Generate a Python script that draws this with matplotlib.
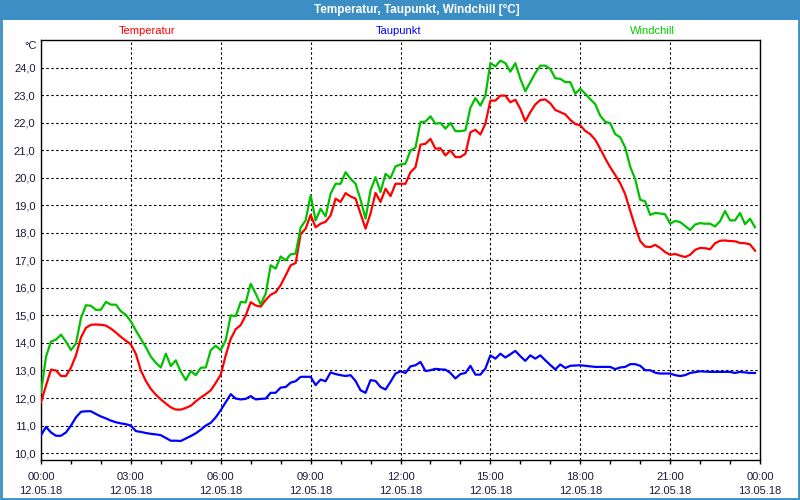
import numpy as np
import matplotlib
matplotlib.use('Agg')
import matplotlib.pyplot as plt
from matplotlib.patches import Rectangle

# Messwerte alle 10 Minuten, 12.05.18 00:00 bis 23:50
stunden = np.arange(144) * 10 / 60

temperatur = [
    11.85, 12.45, 13.03, 13.0, 12.8, 12.8, 13.1, 13.55, 14.2, 14.55, 14.66, 14.67,
    14.66, 14.63, 14.52, 14.38, 14.22, 14.08, 13.95, 13.6, 13.0, 12.62, 12.33, 12.12,
    11.95, 11.8, 11.66, 11.58, 11.58, 11.64, 11.72, 11.88, 12.02, 12.14, 12.28, 12.55,
    12.85, 13.55, 14.15, 14.5, 14.65, 15.0, 15.48, 15.36, 15.32, 15.56, 15.75, 15.84,
    16.1, 16.45, 16.82, 16.9, 17.95, 18.15, 18.65, 18.2, 18.33, 18.4, 18.63, 19.24,
    19.12, 19.44, 19.32, 19.24, 18.7, 18.15, 18.7, 19.45, 19.12, 19.6, 19.33, 19.78,
    19.78, 19.78, 20.2, 20.38, 21.2, 21.23, 21.41, 21.05, 21.07, 20.81, 20.99, 20.75,
    20.75, 20.87, 21.65, 21.74, 21.57, 21.96, 22.8, 22.8, 22.98, 22.98, 22.74, 22.83,
    22.5, 22.05, 22.38, 22.66, 22.82, 22.84, 22.7, 22.46, 22.38, 22.3, 22.1, 21.95,
    21.9, 21.7, 21.58, 21.38, 21.05, 20.7, 20.38, 20.1, 19.8, 19.4, 18.8, 18.22,
    17.7, 17.5, 17.48, 17.56, 17.45, 17.3, 17.2, 17.23, 17.17, 17.12, 17.2, 17.38,
    17.45, 17.44, 17.4, 17.62, 17.71, 17.72, 17.7, 17.69, 17.63, 17.62, 17.58, 17.35,
]

taupunkt = [
    10.65, 10.95, 10.75, 10.63, 10.63, 10.75, 11.0, 11.3, 11.5, 11.52, 11.52, 11.42,
    11.33, 11.26, 11.18, 11.12, 11.08, 11.05, 11.0, 10.8, 10.77, 10.73, 10.7, 10.68,
    10.65, 10.55, 10.45, 10.45, 10.44, 10.53, 10.62, 10.72, 10.85, 11.0, 11.1, 11.3,
    11.56, 11.85, 12.14, 11.98, 11.95, 11.97, 12.07, 11.95, 11.97, 11.98, 12.19, 12.19,
    12.38, 12.4, 12.56, 12.61, 12.77, 12.77, 12.77, 12.47, 12.67, 12.61, 12.93, 12.87,
    12.83, 12.8, 12.83, 12.62, 12.28, 12.19, 12.65, 12.62, 12.4, 12.31, 12.59, 12.89,
    12.97, 12.91, 13.15, 13.19, 13.31, 12.98, 13.01, 13.06, 13.04, 13.03, 12.91, 12.71,
    12.87, 12.91, 13.17, 12.85, 12.85, 13.07, 13.55, 13.43, 13.61, 13.47, 13.59, 13.71,
    13.52, 13.35, 13.55, 13.43, 13.55, 13.37, 13.2, 13.04, 13.22, 13.09, 13.17, 13.18,
    13.19, 13.17, 13.15, 13.13, 13.13, 13.13, 13.13, 13.05, 13.11, 13.13, 13.23, 13.23,
    13.17, 13.01, 13.01, 12.92, 12.89, 12.89, 12.89, 12.83, 12.8, 12.83, 12.91, 12.94,
    12.97, 12.96, 12.95, 12.95, 12.95, 12.95, 12.95, 12.91, 12.95, 12.93, 12.91, 12.91,
]

windchill = [
    12.2, 13.5, 14.05, 14.12, 14.3, 14.05, 13.74, 13.98, 14.9, 15.37, 15.35, 15.2,
    15.21, 15.49, 15.39, 15.39, 15.15, 15.02, 14.78, 14.45, 14.15, 13.85, 13.5, 13.28,
    13.11, 13.61, 13.16, 13.37, 12.95, 12.65, 12.98, 12.83, 13.1, 13.11, 13.74, 13.9,
    13.74, 14.1, 15.0, 14.97, 15.49, 15.47, 16.15, 15.79, 15.4, 15.79, 16.82, 16.7,
    17.14, 17.0, 17.22, 17.24, 18.19, 18.45, 19.36, 18.45, 18.87, 18.6, 19.42, 19.78,
    19.78, 20.2, 19.96, 19.78, 19.2, 18.51, 19.54, 20.02, 19.48, 20.14, 19.99, 20.41,
    20.48, 20.51, 20.99, 21.09, 22.02, 22.04, 22.23, 21.96, 21.99, 21.78, 21.99, 21.69,
    21.69, 21.72, 22.54, 22.89, 22.62, 22.98, 24.16, 24.04, 24.25, 24.16, 23.85, 24.16,
    23.59, 23.14, 23.47, 23.8, 24.07, 24.07, 23.95, 23.61, 23.59, 23.47, 23.47, 23.05,
    23.23, 23.05, 22.85, 22.67, 22.25, 22.03, 21.98, 21.58, 21.47, 21.1, 20.4, 19.95,
    19.2, 19.14, 18.65, 18.72, 18.7, 18.67, 18.33, 18.43, 18.39, 18.25, 18.1, 18.3,
    18.35, 18.33, 18.33, 18.23, 18.42, 18.79, 18.45, 18.45, 18.72, 18.31, 18.51, 18.2,
]

x_ticks = [0, 3, 6, 9, 12, 15, 18, 21, 24]
x_labels = ['00:00\n12.05.18', '03:00\n12.05.18', '06:00\n12.05.18', '09:00\n12.05.18',
            '12:00\n12.05.18', '15:00\n12.05.18', '18:00\n12.05.18', '21:00\n12.05.18',
            '00:00\n13.05.18']
y_ticks = list(range(10, 25))

plt.rcParams['font.family'] = ['Liberation Sans', 'DejaVu Sans']
rahmen = '#3c8fc5'
text_farbe = '#1c1c3c'

fig = plt.figure(figsize=(8, 5), dpi=100)
fig.patch.set_facecolor('white')

# Titelleiste und Rahmen
fig.patches.append(Rectangle((0, 1 - 20 / 500), 1, 20 / 500, transform=fig.transFigure,
                             facecolor=rahmen, edgecolor='none', zorder=0))
fig.patches.append(Rectangle((0.001, 0.002), 0.998, 0.996, transform=fig.transFigure,
                             facecolor='none', edgecolor=rahmen, linewidth=2, zorder=0))
fig.text(417 / 800, 1 - 10 / 500, 'Temperatur, Taupunkt, Windchill [°C]', color='white',
         fontsize=8.5, fontweight='bold', ha='center', va='center')

fig.text(147 / 800, 1 - 31 / 500, 'Temperatur', color='#ff0000', fontsize=8, ha='center', va='center')
fig.text(399 / 800, 1 - 31 / 500, 'Taupunkt', color='#0000ff', fontsize=8, ha='center', va='center')
fig.text(652 / 800, 1 - 31 / 500, 'Windchill', color='#00cc00', fontsize=8, ha='center', va='center')
fig.text(37 / 800, 1 - 46 / 500, '°C', color=text_farbe, fontsize=8, ha='right', va='center')

ax = fig.add_axes([41 / 800, 40 / 500, 719 / 800, 420 / 500])
ax.plot(stunden, temperatur, color='#ff0000', linewidth=1.6, zorder=3)
ax.plot(stunden, taupunkt, color='#0000ff', linewidth=1.6, zorder=3)
ax.plot(stunden, windchill, color='#00c000', linewidth=1.6, zorder=3)

ax.set_xlim(0, 24)
ax.set_ylim(9.75, 25.0)
ax.set_xticks(x_ticks)
ax.set_xticklabels(x_labels, fontsize=8, color=text_farbe, linespacing=1.45)
ax.set_xticks(range(0, 25), minor=True)
ax.set_yticks(y_ticks)
ax.set_yticklabels([f'{v},0' for v in y_ticks], fontsize=8, color=text_farbe)
ax.tick_params(axis='y', length=0, pad=4)
ax.tick_params(axis='x', which='both', length=3, width=1, direction='out', pad=6)

ax.grid(True, color='black', linestyle=(0, (2.2, 2.2)), linewidth=0.8)
for s in ax.spines.values():
    s.set_color('black')
    s.set_linewidth(1)

fig.savefig('out.png', dpi=100)
